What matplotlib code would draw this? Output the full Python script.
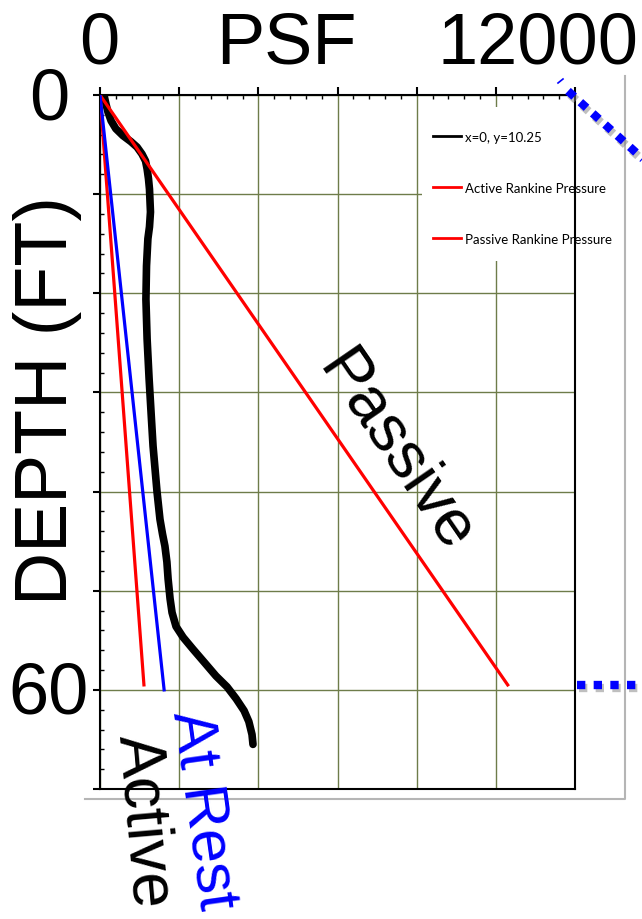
import matplotlib
matplotlib.use("Agg")
import matplotlib.pyplot as plt
import matplotlib.patheffects as pe
from matplotlib.lines import Line2D
from matplotlib.patches import Rectangle
from matplotlib.ticker import MultipleLocator

W, H = 642, 920

# soil pressure profile (psf) vs depth (ft)
depth_fem = [0, 0.9, 1.7, 2.6, 3.4, 4.1, 4.7, 5.25, 5.95, 6.65, 7.45, 8.45, 9.5,
             11.8, 13.3, 14.5, 17.25, 20.6, 24.6, 28.6, 32.7, 35.4, 37.7, 40.0,
             42.8, 44.3, 45.5, 47.1, 48.8, 50.8, 52.2, 53.6, 54.7, 55.9, 57.2,
             58.6, 59.7, 60.9, 62.1, 63.2, 64.5, 65.5]
psf_fem = [100, 150, 200, 280, 400, 580, 780, 935, 1060, 1150, 1190, 1225, 1250,
           1275, 1250, 1210, 1175, 1160, 1190, 1240, 1300, 1340, 1390, 1440,
           1515, 1580, 1640, 1690, 1720, 1770, 1820, 1920, 2100, 2350, 2630,
           2930, 3210, 3440, 3640, 3760, 3840, 3865]

depth_active = [0, 59.5]
psf_active = [0, 1110]
depth_rest = [0, 60]
psf_rest = [0, 1620]
depth_passive = [0, 59.5]
psf_passive = [0, 10300]

legend_labels = ["x=0, y=10.25", "Active Rankine Pressure", "Passive Rankine Pressure"]


def fx(x):
    return x / W


def fy(y):
    return 1 - y / H


fig = plt.figure(figsize=(W / 100, H / 100), dpi=100)
big = "Liberation Sans"

# grey outer chart frame (only right and bottom edges visible)
fig.add_artist(Line2D([fx(85), fx(625), fx(625)], [fy(800), fy(800), fy(77)],
                      color="#b5b5b5", lw=1.5))

ax = fig.add_axes([fx(100), fy(790), fx(575) - fx(100), fy(96) - fy(790)])
ax.set_xlim(0, 12000)
ax.set_ylim(70, 0)
ax.xaxis.set_ticks_position("top")
ax.xaxis.set_major_locator(MultipleLocator(2000))
ax.xaxis.set_minor_locator(MultipleLocator(400))
ax.yaxis.set_major_locator(MultipleLocator(10))
ax.yaxis.set_minor_locator(MultipleLocator(2))
ax.tick_params(axis="x", which="major", direction="out", length=6, width=1.5,
               labeltop=False, labelbottom=False)
ax.tick_params(axis="x", which="minor", direction="in", length=3, width=1)
ax.tick_params(axis="y", which="major", direction="out", length=5, width=1.5,
               labelleft=False)
ax.tick_params(axis="y", which="minor", direction="in", length=3, width=1)
for s in ax.spines.values():
    s.set_color("black")
    s.set_linewidth(1.5)
ax.grid(True, which="major", color="#6e7c4a", lw=1)
ax.set_axisbelow(True)

ax.plot(psf_fem, depth_fem, color="black", lw=5.5, solid_capstyle="round",
        solid_joinstyle="round", zorder=3)
ax.plot(psf_passive, depth_passive, color="#ff0000", lw=2.3, zorder=4)
ax.plot(psf_active, depth_active, color="#ff0000", lw=2.3, zorder=4)
ax.plot(psf_rest, depth_rest, color="#0000ff", lw=2.3, zorder=4)

# legend box hides the grid behind it
ax.add_patch(Rectangle((0.678, 0.761), 0.32, 0.222, transform=ax.transAxes,
                       facecolor="white", edgecolor="none", zorder=2.5))
handles = [Line2D([], [], color="black", lw=2),
           Line2D([], [], color="#ff0000", lw=2),
           Line2D([], [], color="#ff0000", lw=2)]
leg = ax.legend(handles, legend_labels, loc="upper left", frameon=False,
                bbox_to_anchor=(0.69, 0.956), prop={"family": "Lato", "size": 9.5},
                handlelength=2.1, handletextpad=0.3, labelspacing=2.95,
                borderaxespad=0)
leg.set_zorder(5)

# axis labels drawn as big text
fig.text(fx(99), fy(63), "0", fontsize=52, family=big, ha="center", va="baseline")
fig.text(fx(286), fy(63), "PSF", fontsize=52, family=big, ha="center", va="baseline")
fig.text(fx(538), fy(63), "12000", fontsize=52, family=big, ha="center", va="baseline")
fig.text(fx(49), fy(120), "0", fontsize=52, family=big, ha="center", va="baseline")
fig.text(fx(49), fy(713), "60", fontsize=52, family=big, ha="center", va="baseline")
fig.text(fx(48), fy(401), "DEPTH (FT)", fontsize=53, family=big, rotation=90,
         ha="center", va="center")

fig.text(fx(396), fy(452), "Passive", fontsize=47, family=big, rotation=-55.5,
         ha="center", va="center", rotation_mode="anchor")
fig.text(fx(203), fy(810), "At Rest", fontsize=44, family=big, color="#0000ff",
         rotation=-82, ha="center", va="center")
fig.text(fx(144), fy(821), "Active", fontsize=46, family=big, rotation=-85,
         ha="center", va="center")

# blue dotted callout lines with shadow
shadow = [pe.SimpleLineShadow(offset=(1.5, -2.5), shadow_color="gray", alpha=0.5),
          pe.Normal()]
fig.add_artist(Line2D([fx(568), fx(652)], [fy(92), fy(168)], color="#0000ff", lw=6,
                      linestyle=(0, (1, 1.0)), dash_capstyle="butt",
                      path_effects=shadow))
fig.add_artist(Line2D([fx(558), fx(563)], [fy(84), fy(80)], color="#0000ff", lw=1.2))
fig.add_artist(Line2D([fx(577), fx(645)], [fy(686), fy(686)], color="#0000ff", lw=6,
                      linestyle=(0, (1, 1)), dash_capstyle="butt",
                      path_effects=shadow))

fig.savefig("out.png", dpi=100)
